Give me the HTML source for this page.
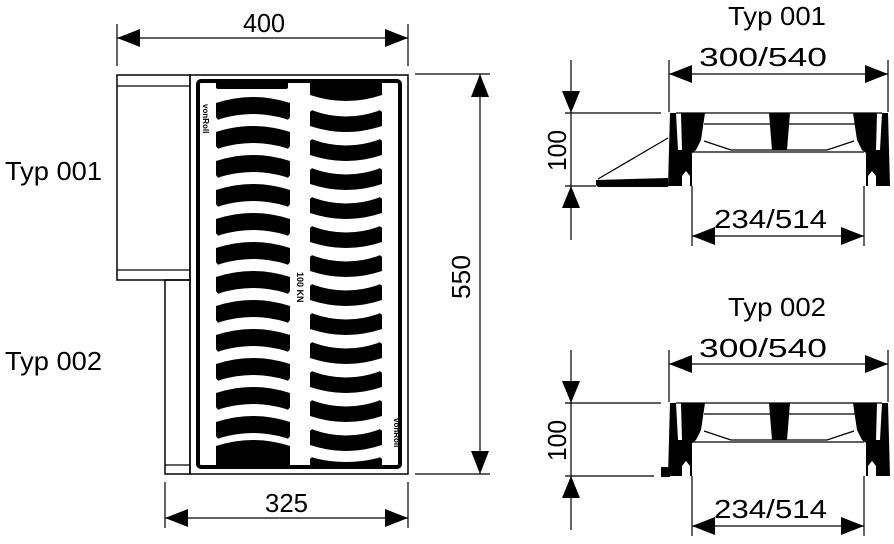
<!DOCTYPE html>
<html><head><style>
html,body{margin:0;padding:0;background:#fff;}
svg{display:block;}
text{font-family:"Liberation Sans",sans-serif;fill:#000;}
</style></head><body>
<svg width="894" height="544" viewBox="0 0 894 544" xmlns="http://www.w3.org/2000/svg">
<defs>
<path id="su" d="M0,6 Q37,-6 74,6 L74,20 Q72,24 70,22 Q37,12 4,22 Q2,24 0,20 Z"/>
<path id="sd" d="M0,2 Q2,-1 4,1 Q36,12 68,1 Q70,-1 72,2 L72,16 Q36,28 0,16 Z"/>
<g id="prof">
<line x1="676" y1="113" x2="882" y2="113" stroke="#000" stroke-width="1.2"/>
<line x1="704" y1="124" x2="855" y2="124" stroke="#000" stroke-width="1.2"/>
<line x1="692" y1="152" x2="864" y2="152" stroke="#000" stroke-width="1.2"/>
<polyline points="704,141 731,150 827,150 854,141" fill="none" stroke="#000" stroke-width="1.2"/>
<polygon points="670,113 676,113 678,150 682,150 681,113 705,113 701,140 696,150 692,153 692,186 690,186 690,176 686,171 682,176 682,186 668,186"/>
<g transform="translate(1558,0) scale(-1,1)">
<polygon points="670,113 676,113 678,150 682,150 681,113 705,113 701,140 696,150 692,153 692,186 690,186 690,176 686,171 682,176 682,186 668,186"/>
</g>
<polygon points="769,113 790,113 787,150 772,150"/>
</g>
</defs>

<!-- 400 dimension -->
<line x1="117" y1="24" x2="117" y2="66" stroke="#000" stroke-width="1.2"/>
<line x1="408" y1="24" x2="408" y2="66" stroke="#000" stroke-width="1.2"/>
<line x1="117" y1="38" x2="408" y2="38" stroke="#000" stroke-width="1.2"/>
<polygon points="117,38 140,29 140,47"/><polygon points="408,38 385,29 385,47"/>
<text x="243" y="32" font-size="26" textLength="42" lengthAdjust="spacingAndGlyphs">400</text>

<!-- plate -->
<rect x="190" y="75" width="218" height="399" fill="none" stroke="#000" stroke-width="1.5"/>
<rect x="117" y="75" width="73" height="205" fill="none" stroke="#000" stroke-width="1.5"/>
<line x1="117" y1="86" x2="190" y2="86" stroke="#000" stroke-width="1.2"/>
<line x1="117" y1="270" x2="190" y2="270" stroke="#000" stroke-width="1.2"/>
<rect x="165" y="280" width="25" height="194" fill="none" stroke="#000" stroke-width="1.5"/>
<line x1="165" y1="465" x2="190" y2="465" stroke="#000" stroke-width="1.2"/>
<rect x="198" y="81" width="202" height="386" rx="3" fill="none" stroke="#000" stroke-width="4"/>

<g>
<rect x="216" y="81" width="72" height="8" rx="2"/>
<use href="#su" x="216" y="97"/><use href="#su" x="216" y="126"/><use href="#su" x="216" y="155"/>
<use href="#su" x="216" y="184"/><use href="#su" x="216" y="213"/><use href="#su" x="216" y="242"/>
<use href="#su" x="216" y="271"/><use href="#su" x="216" y="300"/><use href="#su" x="216" y="329"/>
<use href="#su" x="216" y="358"/><use href="#su" x="216" y="387"/><use href="#su" x="216" y="416"/>
<path d="M216,446 Q253,434 290,446 L290,466 L216,466 Z"/>
</g>
<g>
<path d="M310,81 L382,81 L382,95 Q346,107 310,95 Z"/>
<use href="#sd" x="310" y="110"/><use href="#sd" x="310" y="139"/><use href="#sd" x="310" y="168"/>
<use href="#sd" x="310" y="197"/><use href="#sd" x="310" y="226"/><use href="#sd" x="310" y="255"/>
<use href="#sd" x="310" y="284"/><use href="#sd" x="310" y="313"/><use href="#sd" x="310" y="342"/>
<use href="#sd" x="310" y="371"/><use href="#sd" x="310" y="400"/><use href="#sd" x="310" y="429"/>
<path d="M310,459 Q312,456 314,458 Q346,466 378,458 Q380,456 382,459 L382,466 L310,466 Z"/>
</g>
<text transform="translate(203,104) rotate(90)" font-size="8" font-weight="bold">vonRoll</text>
<text transform="translate(394,418) rotate(90)" font-size="8" font-weight="bold">vonRoll</text>
<text transform="translate(297,272) rotate(90)" font-size="9" font-weight="bold">100 KN</text>

<!-- 550 dimension -->
<line x1="415" y1="74" x2="490" y2="74" stroke="#000" stroke-width="1.2"/>
<line x1="415" y1="474" x2="490" y2="474" stroke="#000" stroke-width="1.2"/>
<line x1="480" y1="74" x2="480" y2="474" stroke="#000" stroke-width="1.2"/>
<polygon points="480,74 471,97 489,97"/><polygon points="480,474 471,451 489,451"/>
<text transform="translate(470,299) rotate(-90)" font-size="26" textLength="44" lengthAdjust="spacingAndGlyphs">550</text>

<!-- 325 dimension -->
<line x1="165" y1="482" x2="165" y2="528" stroke="#000" stroke-width="1.2"/>
<line x1="408" y1="482" x2="408" y2="528" stroke="#000" stroke-width="1.2"/>
<line x1="165" y1="518" x2="408" y2="518" stroke="#000" stroke-width="1.2"/>
<polygon points="165,518 188,509 188,527"/><polygon points="408,518 385,509 385,527"/>
<text x="265" y="512" font-size="26" textLength="43" lengthAdjust="spacingAndGlyphs">325</text>

<text x="5" y="180" font-size="26" textLength="97" lengthAdjust="spacingAndGlyphs">Typ 001</text>
<text x="5" y="370" font-size="26" textLength="97" lengthAdjust="spacingAndGlyphs">Typ 002</text>

<!-- Typ 001 profile -->
<text x="728" y="25" font-size="26" textLength="98" lengthAdjust="spacingAndGlyphs">Typ 001</text>
<text x="699" y="66" font-size="26" textLength="128" lengthAdjust="spacingAndGlyphs">300/540</text>
<line x1="669" y1="60" x2="669" y2="112" stroke="#000" stroke-width="1.2"/>
<line x1="888" y1="60" x2="888" y2="112" stroke="#000" stroke-width="1.2"/>
<line x1="669" y1="74" x2="888" y2="74" stroke="#000" stroke-width="1.2"/>
<polygon points="669,74 692,65 692,83"/><polygon points="888,74 865,65 865,83"/>
<use href="#prof"/>
<polygon points="596,180 668,178 668,187 598,187 596,185"/>
<line x1="598" y1="179" x2="668" y2="138" stroke="#000" stroke-width="1.2"/>
<line x1="565" y1="113" x2="661" y2="113" stroke="#000" stroke-width="1.2"/>
<line x1="565" y1="186" x2="596" y2="186" stroke="#000" stroke-width="1.2"/>
<line x1="571" y1="60" x2="571" y2="240" stroke="#000" stroke-width="1.2"/>
<polygon points="571,113 562,91 580,91"/><polygon points="571,186 562,208 580,208"/>
<text transform="translate(566,171) rotate(-90)" font-size="26" textLength="41" lengthAdjust="spacingAndGlyphs">100</text>
<line x1="692" y1="186" x2="692" y2="246" stroke="#000" stroke-width="1.2"/>
<line x1="864" y1="186" x2="864" y2="246" stroke="#000" stroke-width="1.2"/>
<line x1="692" y1="236" x2="864" y2="236" stroke="#000" stroke-width="1.2"/>
<polygon points="692,236 715,227 715,245"/><polygon points="864,236 841,227 841,245"/>
<text x="714" y="228" font-size="26" textLength="113" lengthAdjust="spacingAndGlyphs">234/514</text>

<!-- Typ 002 profile -->
<text x="728" y="316" font-size="26" textLength="98" lengthAdjust="spacingAndGlyphs">Typ 002</text>
<text x="699" y="357" font-size="26" textLength="128" lengthAdjust="spacingAndGlyphs">300/540</text>
<line x1="669" y1="350" x2="669" y2="402" stroke="#000" stroke-width="1.2"/>
<line x1="888" y1="350" x2="888" y2="402" stroke="#000" stroke-width="1.2"/>
<line x1="669" y1="364" x2="888" y2="364" stroke="#000" stroke-width="1.2"/>
<polygon points="669,364 692,355 692,373"/><polygon points="888,364 865,355 865,373"/>
<g transform="translate(0,290)"><use href="#prof"/></g>
<rect x="661" y="467" width="9" height="10"/>
<line x1="565" y1="403" x2="661" y2="403" stroke="#000" stroke-width="1.2"/>
<line x1="565" y1="476" x2="654" y2="476" stroke="#000" stroke-width="1.2"/>
<line x1="571" y1="350" x2="571" y2="530" stroke="#000" stroke-width="1.2"/>
<polygon points="571,403 562,381 580,381"/><polygon points="571,476 562,498 580,498"/>
<text transform="translate(566,461) rotate(-90)" font-size="26" textLength="41" lengthAdjust="spacingAndGlyphs">100</text>
<line x1="692" y1="476" x2="692" y2="536" stroke="#000" stroke-width="1.2"/>
<line x1="864" y1="476" x2="864" y2="536" stroke="#000" stroke-width="1.2"/>
<line x1="692" y1="526" x2="864" y2="526" stroke="#000" stroke-width="1.2"/>
<polygon points="692,526 715,517 715,535"/><polygon points="864,526 841,517 841,535"/>
<text x="714" y="518" font-size="26" textLength="113" lengthAdjust="spacingAndGlyphs">234/514</text>
</svg>
</body></html>
